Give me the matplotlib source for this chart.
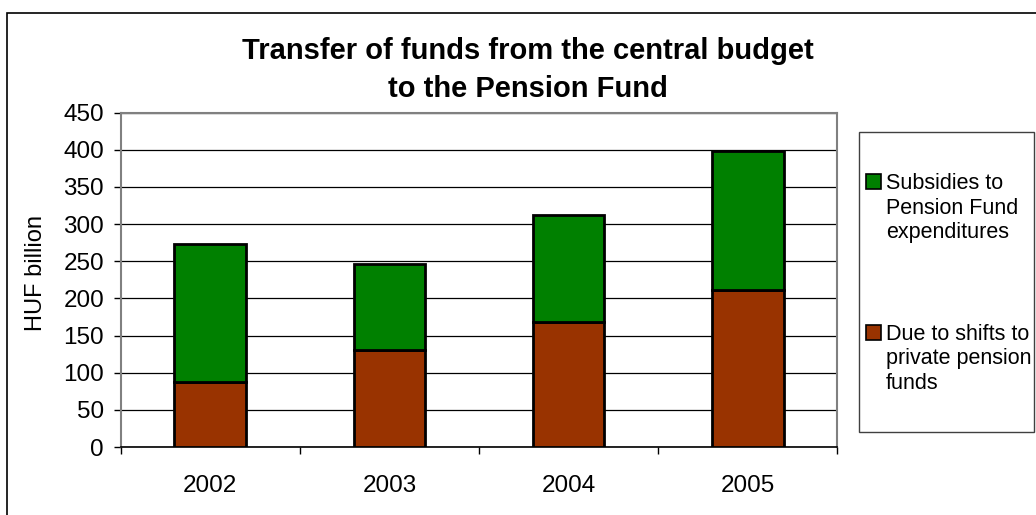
import matplotlib.pyplot as plt
from matplotlib.patches import Rectangle
import numpy as np

plt.rcParams['font.family'] = ['Liberation Sans', 'DejaVu Sans']

years = ['2002', '2003', '2004', '2005']
private_shift = [88, 130, 168, 211]
subsidies = [185.5, 116, 144, 188]
series_names = ['Subsidies to\nPension Fund\nexpenditures',
                'Due to shifts to\nprivate pension\nfunds']
col_sub = '#008000'
col_priv = '#993300'

W, H = 1036, 515
fig = plt.figure(figsize=(W/100, H/100), dpi=100)
ax = fig.add_axes([120.7/W, 1-447/H, 716.6/W, 334.3/H])

x = np.arange(len(years))
ax.bar(x, private_shift, 0.4, color=col_priv, edgecolor='black', linewidth=2, zorder=3)
ax.bar(x, subsidies, 0.4, bottom=private_shift, color=col_sub, edgecolor='black', linewidth=2, zorder=3)

ax.set_xlim(-0.5, len(years)-0.5)
ax.set_ylim(0, 450)
ax.set_yticks(np.arange(0, 451, 50))
ax.tick_params(axis='y', labelsize=17.5, length=5, width=1, pad=7, direction='out')
ax.yaxis.grid(True, color='black', linewidth=0.9, zorder=0)
ax.set_axisbelow(True)

# category labels in the middle, tick marks on the boundaries
ax.set_xticks(x)
ax.set_xticklabels(years)
ax.tick_params(axis='x', which='major', length=0, labelsize=17.5, pad=20)
ax.set_xticks(np.arange(-0.5, len(years), 1), minor=True)
ax.tick_params(axis='x', which='minor', length=5, width=1, direction='out')

for s in ['top', 'right', 'left']:
    ax.spines[s].set_color('#808080')
    ax.spines[s].set_linewidth(1.5)
ax.spines['bottom'].set_color('black')
ax.spines['bottom'].set_linewidth(1.2)

ax.set_ylabel('HUF billion', fontsize=17)
ax.yaxis.set_label_coords((47-120.7)/716.6, 0.519)

fig.text(527.5/W, 1-59.3/H, 'Transfer of funds from the central budget',
         ha='center', va='baseline', fontsize=21, fontweight='bold')
fig.text(527.5/W, 1-97.3/H, 'to the Pension Fund',
         ha='center', va='baseline', fontsize=21, fontweight='bold')

# outer chart border
fig.add_artist(Rectangle((7/W, -0.05), 1.0, 1-13/H+0.05, transform=fig.transFigure,
                         fill=False, edgecolor='black', linewidth=1.2))

# legend box
fig.add_artist(Rectangle((859/W, 1-432/H), (1034-859)/W, (432-132)/H, transform=fig.transFigure,
                         facecolor='white', edgecolor='#404040', linewidth=1))
for color, label, base in [(col_sub, series_names[0], 189.3), (col_priv, series_names[1], 340)]:
    fig.add_artist(Rectangle((866/W, 1-base/H), 15/W, 15/H, transform=fig.transFigure,
                             facecolor=color, edgecolor='black', linewidth=1.2))
    for i, line in enumerate(label.split('\n')):
        fig.text(886/W, 1-(base+24.3*i)/H, line, ha='left', va='baseline', fontsize=15.5)

fig.savefig('out.png', dpi=100)
